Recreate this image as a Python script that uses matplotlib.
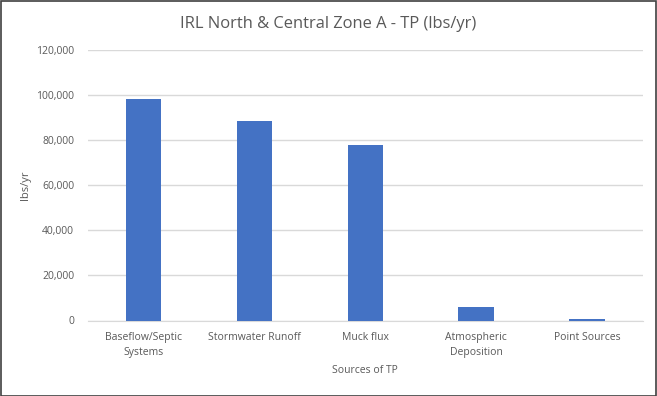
import matplotlib.pyplot as plt
from matplotlib.patches import Rectangle
from matplotlib.ticker import FuncFormatter

categories = ['Baseflow/Septic\nSystems', 'Stormwater Runoff', 'Muck flux',
              'Atmospheric\nDeposition', 'Point Sources']
values = [98400, 88600, 78000, 6100, 800]

grey = '#595959'
plt.rcParams['font.family'] = ['Open Sans', 'DejaVu Sans']

fig = plt.figure(figsize=(6.57, 3.96), dpi=100)
ax = fig.add_axes([88 / 657, 1 - 320.5 / 396, (642.5 - 88) / 657, (320.5 - 50.3) / 396])

ax.bar(range(len(values)), values, width=0.32, color='#4472c4', zorder=3)
ax.set_xlim(-0.5, len(values) - 0.5)
ax.set_ylim(0, 120000)
ax.set_yticks(range(0, 120001, 20000))
ax.yaxis.set_major_formatter(FuncFormatter(lambda v, p: f'{int(v):,}'))
ax.set_xticks(range(len(values)))
ax.set_xticklabels(categories)
ax.grid(axis='y', color='#d9d9d9', linewidth=1, zorder=0)
for s in ['top', 'right', 'left']:
    ax.spines[s].set_visible(False)
ax.spines['bottom'].set_color('#d9d9d9')
ax.tick_params(axis='both', length=0, labelsize=7.5, colors=grey)
ax.tick_params(axis='y', pad=10)
ax.tick_params(axis='x', pad=8)
for lbl in ax.get_xticklabels():
    lbl.set_linespacing(1.55)

ax.set_ylabel('lbs/yr', fontsize=8, color=grey)
ax.yaxis.set_label_coords(-(88 - 31) / 554.5, 0.5)
ax.set_xlabel('Sources of TP', fontsize=7.5, color=grey, labelpad=5)
fig.text(0.5, 1 - 24 / 396, 'IRL North & Central Zone A - TP (lbs/yr)',
         ha='center', va='center', fontsize=11.9, color=grey)

fig.patches.append(Rectangle((0.5 / 657, 0.5 / 396), 1 - 1.5 / 657, 1 - 1.5 / 396,
                             transform=fig.transFigure, fill=False,
                             edgecolor='#404040', linewidth=1.2))

plt.savefig('out.png', dpi=100)
